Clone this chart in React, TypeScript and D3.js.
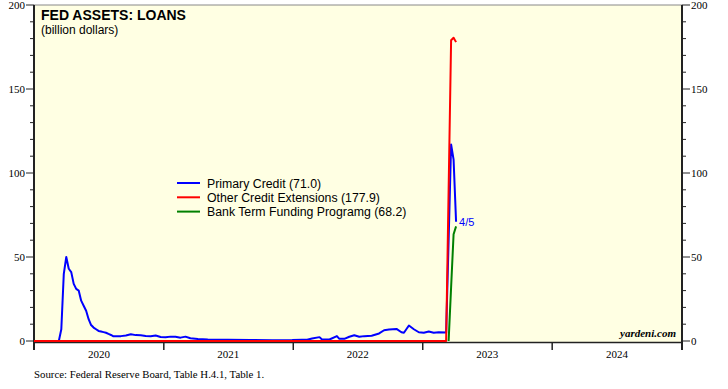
import React from "react";
import * as d3 from "d3";

const primaryCredit: [string, number][] = [
  ["2020-01-01", 0], ["2020-03-11", 0], ["2020-03-18", 7], ["2020-03-25", 40],
  ["2020-04-01", 50], ["2020-04-08", 43], ["2020-04-15", 41], ["2020-04-22", 34],
  ["2020-04-29", 31], ["2020-05-06", 30], ["2020-05-13", 24], ["2020-05-20", 21],
  ["2020-05-27", 18], ["2020-06-03", 13], ["2020-06-10", 9.5], ["2020-06-17", 8],
  ["2020-06-24", 7], ["2020-07-01", 6], ["2020-07-08", 5.7], ["2020-07-15", 5.3],
  ["2020-07-22", 4.9], ["2020-07-29", 4.2], ["2020-08-05", 3.6], ["2020-08-12", 2.8],
  ["2020-08-19", 2.8], ["2020-09-02", 2.9], ["2020-09-16", 3.3], ["2020-09-30", 4],
  ["2020-10-14", 3.5], ["2020-10-28", 3.4], ["2020-11-11", 3.0], ["2020-11-25", 2.8],
  ["2020-12-09", 3.3], ["2020-12-23", 2.4], ["2021-01-06", 2.2], ["2021-01-20", 2.6],
  ["2021-02-03", 2.5], ["2021-02-17", 2.0], ["2021-03-03", 2.6], ["2021-03-17", 1.6],
  ["2021-04-07", 1.2], ["2021-05-05", 0.9], ["2021-06-30", 0.7], ["2021-09-01", 0.6],
  ["2021-11-03", 0.5], ["2021-12-29", 0.6], ["2022-01-26", 0.8], ["2022-02-09", 0.8],
  ["2022-02-23", 1.5], ["2022-03-16", 2.3], ["2022-03-23", 0.9], ["2022-04-13", 0.9],
  ["2022-05-04", 2.9], ["2022-05-11", 1.3], ["2022-05-25", 1.3], ["2022-06-08", 2.5],
  ["2022-06-22", 3.4], ["2022-07-06", 2.5], ["2022-07-20", 2.9], ["2022-08-10", 3.1],
  ["2022-08-31", 4.5], ["2022-09-14", 6.4], ["2022-09-28", 6.8], ["2022-10-19", 7.2],
  ["2022-11-02", 5.2], ["2022-11-09", 4.9], ["2022-11-23", 9.2], ["2022-12-07", 7],
  ["2022-12-21", 5.2], ["2023-01-04", 4.9], ["2023-01-18", 5.6], ["2023-02-01", 4.9],
  ["2023-02-15", 5.2], ["2023-03-08", 5], ["2023-03-15", 60], ["2023-03-22", 117],
  ["2023-03-29", 108], ["2023-04-05", 71.0],
];

const otherCredit: [string, number][] = [
  ["2020-01-01", 0], ["2023-03-08", 0], ["2023-03-15", 90], ["2023-03-22", 179],
  ["2023-03-29", 180.5], ["2023-04-05", 177.9],
];

const bankTermFunding: [string, number][] = [
  ["2023-03-15", 0], ["2023-03-22", 32], ["2023-03-29", 63.5], ["2023-04-05", 68.2],
];

const yTicksMajor = [0, 50, 100, 150, 200];
const yearTicks = [2020, 2021, 2022, 2023, 2024, 2025];
const yearLabels = [2020, 2021, 2022, 2023, 2024];

const legendItems = [
  { label: "Primary Credit (71.0)", color: "#0000ff" },
  { label: "Other Credit Extensions (177.9)", color: "#ff0000" },
  { label: "Bank Term Funding Programg (68.2)", color: "#008000" },
];

const parse = d3.timeParse("%Y-%m-%d");

export default function App() {
  const W = 728, H = 389;
  const left = 34, right = 682, top = 5, bottom = 342;
  const x = d3.scaleTime().domain([new Date(2020, 0, 1), new Date(2025, 0, 1)]).range([left, right]);
  const y = d3.scaleLinear().domain([0, 200]).range([bottom - 1, top]);
  const line = d3.line<[string, number]>()
    .x((d) => x(parse(d[0]) as Date))
    .y((d) => y(d[1]));
  const minorTicks = d3.range(0, 201, 10).filter((v) => v % 50 !== 0);
  const serif = "'Liberation Serif', 'Times New Roman', serif";
  const sans = "'Liberation Sans', Arial, sans-serif";
  const last = primaryCredit[primaryCredit.length - 1];

  return (
    <svg width={W} height={H} style={{ position: "absolute", left: 0, top: 0 }}>
      <rect x={0} y={0} width={W} height={H} fill="#ffffff" />
      <rect x={left} y={top} width={right - left} height={bottom - top} fill="#ffffe3" />
      <line x1={left} x2={right} y1={top} y2={top} stroke="#888" strokeWidth={1} />
      <line x1={left} x2={left} y1={top} y2={bottom + 8} stroke="#222" strokeWidth={2} />
      <line x1={right} x2={right} y1={top} y2={bottom + 8} stroke="#222" strokeWidth={2} />
      {yTicksMajor.map((v) => (
        <g key={"maj" + v}>
          <line x1={left - 8} x2={left} y1={y(v)} y2={y(v)} stroke="#222" strokeWidth={1} />
          <line x1={right} x2={right + 8} y1={y(v)} y2={y(v)} stroke="#222" strokeWidth={1} />
          <text x={left - 9} y={y(v) + 4} textAnchor="end" fontFamily={serif} fontSize={11} fill="#000">{v}</text>
          <text x={right + 9} y={y(v) + 4} textAnchor="start" fontFamily={serif} fontSize={11} fill="#000">{v}</text>
        </g>
      ))}
      {minorTicks.map((v) => (
        <g key={"min" + v}>
          <line x1={left - 4} x2={left} y1={y(v)} y2={y(v)} stroke="#222" strokeWidth={1} />
          <line x1={right} x2={right + 4} y1={y(v)} y2={y(v)} stroke="#222" strokeWidth={1} />
        </g>
      ))}
      <line x1={left} x2={right} y1={bottom + 0.5} y2={bottom + 0.5} stroke="#222" strokeWidth={1.5} />
      {yearTicks.map((yr) => (
        <line key={"xt" + yr} x1={x(new Date(yr, 0, 1))} x2={x(new Date(yr, 0, 1))} y1={bottom} y2={bottom + 8} stroke="#222" strokeWidth={1.5} />
      ))}
      {yearLabels.map((yr) => (
        <text key={"xl" + yr} x={x(new Date(yr, 6, 2))} y={bottom + 16} textAnchor="middle" fontFamily={serif} fontSize={11} fill="#000">{yr}</text>
      ))}
      <path d={line(primaryCredit) || ""} fill="none" stroke="#0000ff" strokeWidth={2} strokeLinejoin="round" />
      <path d={line(otherCredit) || ""} fill="none" stroke="#ff0000" strokeWidth={2} strokeLinejoin="round" />
      <path d={line(bankTermFunding) || ""} fill="none" stroke="#008000" strokeWidth={2} strokeLinejoin="round" />
      <text x={x(parse(last[0]) as Date) + 3} y={y(last[1]) + 4} fontFamily={sans} fontSize={11} fill="#0000ff">4/5</text>
      <text x={41} y={20} fontFamily={sans} fontSize={14} fontWeight="bold" fill="#000">FED ASSETS: LOANS</text>
      <text x={41} y={34} fontFamily={sans} fontSize={12} fill="#000">(billion dollars)</text>
      {legendItems.map((it, i) => (
        <g key={it.label}>
          <line x1={177} x2={200} y1={183 + i * 14.3} y2={183 + i * 14.3} stroke={it.color} strokeWidth={2} />
          <text x={207} y={187.5 + i * 14.3} fontFamily={sans} fontSize={12.3} fill="#000">{it.label}</text>
        </g>
      ))}
      <text x={676} y={337} textAnchor="end" fontFamily={serif} fontSize={11} fontWeight="bold" fontStyle="italic" fill="#000">yardeni.com</text>
      <text x={34} y={378} fontFamily={serif} fontSize={10.8} fill="#000">Source: Federal Reserve Board, Table H.4.1, Table 1.</text>
    </svg>
  );
}
